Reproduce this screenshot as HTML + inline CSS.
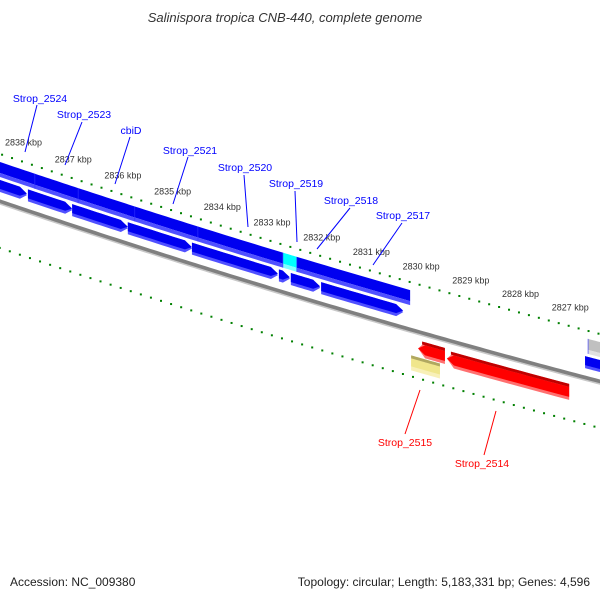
<!DOCTYPE html>
<html><head><meta charset="utf-8"><style>
html,body{margin:0;padding:0;background:#fff;}
svg{display:block;font-family:"Liberation Sans",sans-serif;}
</style></head><body>
<svg id="c" width="600" height="600" viewBox="0 0 600 600">
<text x="285" y="22" text-anchor="middle" font-size="13" font-style="italic" fill="#333">Salinispora tropica CNB-440, complete genome</text>
<text x="10" y="586" font-size="12" fill="#222">Accession: NC_009380</text>
<text x="590" y="586" font-size="12" fill="#222" text-anchor="end">Topology: circular; Length: 5,183,331 bp; Genes: 4,596</text>
<g id="g"></g>
</svg>
<script>
// data (kbp)
const tickKbp = [2839,2838,2837,2836,2835,2834,2833,2832,2831,2830,2829,2828,2827,2826];
const tickLabels = ["","2838 kbp","2837 kbp","2836 kbp","2835 kbp","2834 kbp","2833 kbp","2832 kbp","2831 kbp","2830 kbp","2829 kbp","2828 kbp","2827 kbp",""];
const bandStarts = [2838.95,2837.64,2836.77,2835.63,2834.36,2832.65,2832.37,2826.51];
const bandEnds   = [2837.64,2836.77,2835.63,2834.36,2832.65,2832.37,2830.09,2825.9];
const bandColors = ["blue","blue","blue","blue","blue","cyan","blue","gray"];
const fwdStarts = [2839.2,2837.78,2836.89,2835.77,2834.48,2832.73,2832.49,2831.88,2826.57];
const fwdEnds   = [2837.80,2836.89,2835.77,2834.48,2832.75,2832.51,2831.90,2830.23,2825.9];
const revStarts = [2829.93,2829.35];
const revEnds   = [2829.39,2826.89];
const revColors = ["red","red"];
const pseudoStarts = [2830.07];
const pseudoEnds = [2829.49];

const NS="http://www.w3.org/2000/svg";
const G=document.getElementById('g');
function X(k){return 17+49.7*(2838-k);}
function XL(k){return 35+50.4*(2838-k);}
function Y(x){return 200+0.3386*x-6.42e-5*x*x;}
function S(x){return 0.3386-2*6.42e-5*x;}
function el(t,a){const e=document.createElementNS(NS,t);for(const k in a)e.setAttribute(k,a[k]);G.appendChild(e);return e;}
function band(x1,x2,o1,o2){const p=[];const n=12;for(let i=0;i<=n;i++){const x=x1+(x2-x1)*i/n;p.push(x+','+(Y(x)+o1));}for(let i=n;i>=0;i--){const x=x1+(x2-x1)*i/n;p.push(x+','+(Y(x)+o2));}return p.join(' ');}
function arrow(x1,x2,o1,o2,dir){const h=7;const m=(o1+o2)/2;const p=[];const n=10;
 if(dir>0){const b=Math.max(x1,x2-h);for(let i=0;i<=n;i++){const x=x1+(b-x1)*i/n;p.push(x+','+(Y(x)+o1));}p.push(x2+','+(Y(x2)+m));for(let i=n;i>=0;i--){const x=x1+(b-x1)*i/n;p.push(x+','+(Y(x)+o2));}}
 else{const b=Math.min(x2,x1+h);p.push(x1+','+(Y(x1)+m));for(let i=0;i<=n;i++){const x=b+(x2-b)*i/n;p.push(x+','+(Y(x)+o1));}for(let i=n;i>=0;i--){const x=b+(x2-b)*i/n;p.push(x+','+(Y(x)+o2));}}
 return p.join(' ');}
const pal={blue:["#0000f0","#5050ff","#0000b0"],cyan:["#00ffff","#80ffff","#00c0c0"],gray:["#c0c0c0","#e0e0e0","#909090"],red:["#ff0000","#ff7070","#c00000"],yellow:["#f0e68c","#f8f0b8","#b0a860"]};

// backbone
let d='';for(let x=-5;x<=605;x+=5)d+=(x<0?'M':'L')+x+','+(Y(x)+1.5);
el('path',{d:d,stroke:'#808080','stroke-width':4,fill:'none'});
let d2='';for(let x=-5;x<=605;x+=5)d2+=(x<0?'M':'L')+x+','+(Y(x)+4);
el('path',{d:d2,stroke:'#c8c8c8','stroke-width':1.5,fill:'none'});

// ticks
function ticks(mapX,off,name){
 for(let k10=28395;k10>=28255;k10-=2){const k=k10/10;const x=mapX(k);if(x<-2||x>602)continue;const y=Y(x)+off;const s=S(x);const nl=Math.sqrt(1+s*s);
  const major=(k10%10===0);
  if(major){const L=5;const e=el('line',{x1:x+s*L/nl,y1:y-L/nl,x2:x-s*L/nl,y2:y+L/nl,stroke:'#008000','stroke-width':2});}
  else{const e=el('rect',{x:x-1,y:y-1,width:2,height:2,fill:'#008000'});}
 }}
ticks(X,-46,'upper');
ticks(XL,48,'lower');
tickKbp.forEach((k,i)=>{if(!tickLabels[i])return;const x=X(k);const t=el('text',{x:x-12,y:Y(x)-60,'font-size':9,fill:'#333'});t.textContent=tickLabels[i];});

// upper band
bandStarts.forEach((s,i)=>{const x1=X(s),x2=X(bandEnds[i]);const c=pal[bandColors[i]];
 const a=el('polygon',{points:band(x1,x2,-38,-27),fill:c[0]});
 const b=el('polygon',{points:band(x1,x2,-27,-23),fill:c[1]});
 if(i>0){const l=el('line',{x1:x1,y1:Y(x1)-38,x2:x1,y2:Y(x1)-23,stroke:'#3030ff','stroke-width':0.6});}
});
// forward genes
fwdStarts.forEach((s,i)=>{const x1=X(s),x2=X(fwdEnds[i]);const c=pal.blue;
 const a=el('polygon',{points:arrow(x1,x2,-20,-8,1),fill:c[1]});
 const b=el('polygon',{points:arrow(x1,x2,-20,-11,1),fill:c[0]});
});
// reverse genes
revStarts.forEach((s,i)=>{const x1=X(s),x2=X(revEnds[i]);const c=pal[revColors[i]];
 const o=i===0?10:12;
 const a=el('polygon',{points:arrow(x1,x2,o,o+16,-1),fill:c[1]});
 const b=el('polygon',{points:arrow(x1,x2,o+3,o+13,-1),fill:c[0]});
 const t=el('polygon',{points:band(x1+4,x2,o,o+3),fill:c[2]});
});
pseudoStarts.forEach((s,i)=>{const x1=X(s),x2=X(pseudoEnds[i]);const c=pal.yellow;
 const a=el('polygon',{points:band(x1,x2,27,42),fill:c[1]});
 const b=el('polygon',{points:band(x1,x2,30,38),fill:c[0]});
 const t=el('polygon',{points:band(x1,x2,27,30),fill:c[2]});
});

// gene labels
const labels=[["Strop_2524",40,102,37,105,25,152,"blue"],["Strop_2523",84,118,82,122,65,165,"blue"],["cbiD",131,134,130,137,115,184,"blue"],["Strop_2521",190,154,188,157,173,204,"blue"],["Strop_2520",245,171,244,175,248,227,"blue"],["Strop_2519",296,187,295,191,297,242,"blue"],["Strop_2518",351,204,350,208,317,249,"blue"],["Strop_2517",403,219,402,223,373,265,"blue"],["Strop_2515",405,446,420,390,405,434,"red"],["Strop_2514",482,467,496,411,484,455,"red"]];
labels.forEach(l=>{const c=l[7]==="blue"?"#0000ff":"#ff0000";
 const ln=el('line',{x1:l[3],y1:l[4],x2:l[5],y2:l[6],stroke:c,'stroke-width':1});
 const t=el('text',{x:l[1],y:l[2],'font-size':10.5,fill:c,'text-anchor':'middle'});t.textContent=l[0];
});
</script>
</body></html>
